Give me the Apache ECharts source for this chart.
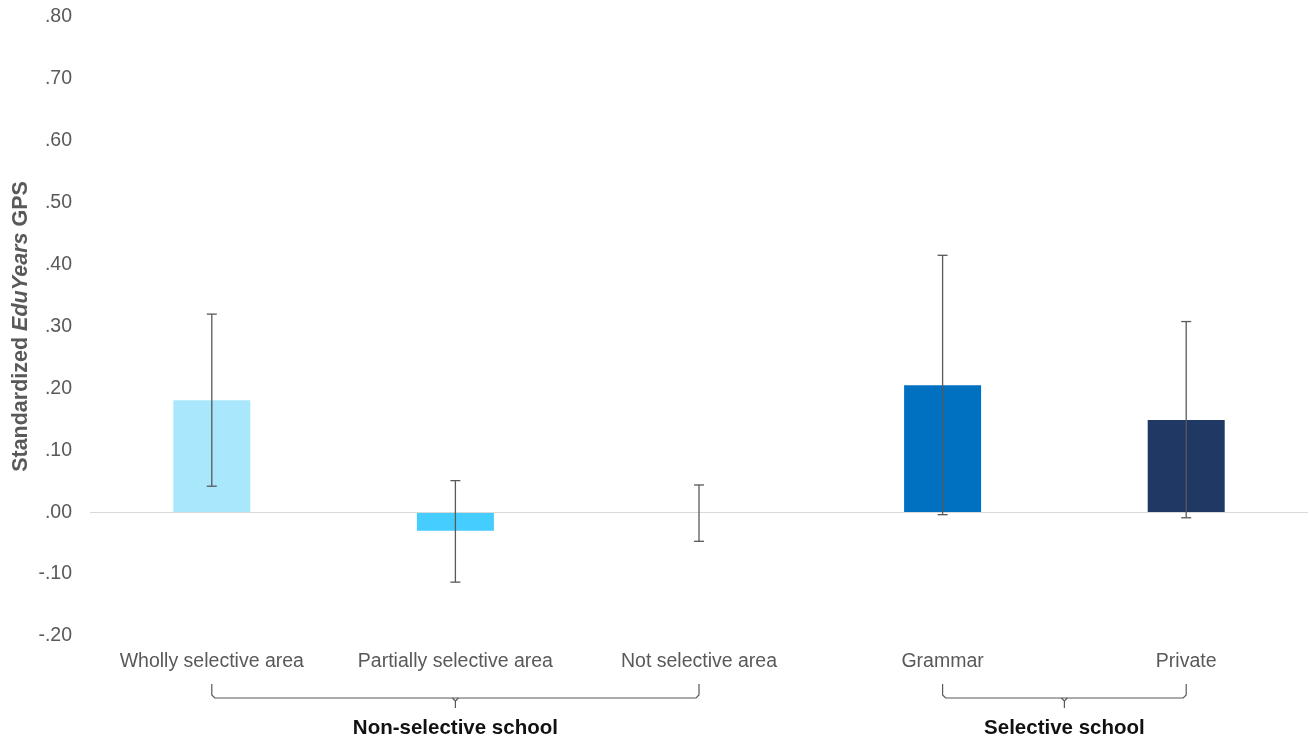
<!DOCTYPE html>
<html>
<head>
<meta charset="utf-8">
<style>
  html, body { margin: 0; padding: 0; background: #ffffff; }
  #chart { width: 1309px; height: 742px; }
</style>
<script src="https://cdn.jsdelivr.net/npm/echarts@6/dist/echarts.min.js"></script>
</head>
<body>
<div id="chart"></div>
<script>
// School-type categories and their standardized EduYears GPS estimates
const categories = ['Wholly selective area', 'Partially selective area', 'Not selective area', 'Grammar', 'Private'];
const means = [0.181, -0.030, 0.000, 0.205, 0.149];
const ciLower = [0.042, -0.113, -0.047, -0.004, -0.009];
const ciUpper = [0.320, 0.051, 0.044, 0.415, 0.308];
const barColors = ['#A9E7FD', '#45CDFF', '#45CDFF', '#0070C0', '#203864'];

// Group brackets under the category axis (first and last category index)
const groups = [
  { name: 'Non-selective school', from: 0, to: 2 },
  { name: 'Selective school', from: 3, to: 4 }
];

const FONT = '"Liberation Sans", Arial, sans-serif';
const chart = echarts.init(document.getElementById('chart'), null, { renderer: 'canvas' });

const tickLabel = v => {
  const s = Math.abs(v).toFixed(2).replace(/^0/, '');
  return (v < -1e-9 ? '-' : '') + s;
};

chart.setOption({
  animation: false,
  backgroundColor: '#ffffff',
  grid: { left: 90, right: 1, top: 17, bottom: 742 - 636, outerBoundsMode: 'none' },
  xAxis: {
    type: 'category',
    data: categories,
    axisLine: { show: false },
    axisTick: { show: false },
    axisLabel: { color: '#595959', fontSize: 19.5, fontFamily: FONT, margin: 16, interval: 0 }
  },
  yAxis: {
    type: 'value',
    min: -0.2,
    max: 0.8,
    interval: 0.1,
    axisLine: { show: false },
    axisTick: { show: false },
    splitLine: { show: false },
    axisLabel: { color: '#595959', fontSize: 19.5, fontFamily: FONT, margin: 18, formatter: tickLabel },
    name: 'Standardized {i|EduYears} GPS',
    nameLocation: 'middle',
    nameGap: 58,
    nameMoveOverlap: false,
    nameTextStyle: {
      color: '#595959', fontSize: 21.5, fontWeight: 'bold', fontFamily: FONT,
      rich: { i: { color: '#595959', fontSize: 21.5, fontWeight: 'bold', fontStyle: 'italic', fontFamily: FONT } }
    }
  },
  series: [
    {
      type: 'bar',
      barWidth: 77,
      data: means.map((v, i) => ({ value: v, itemStyle: { color: barColors[i] } })),
      markLine: {
        silent: true,
        symbol: 'none',
        label: { show: false },
        lineStyle: { color: '#D9D9D9', width: 1, type: 'solid' },
        data: [{ yAxis: 0 }]
      },
      z: 2
    },
    {
      type: 'custom',
      z: 5,
      data: categories.map((c, i) => [i, ciLower[i], ciUpper[i]]),
      renderItem: (params, api) => {
        const x = api.value(0);
        const lo = api.coord([x, api.value(1)]);
        const hi = api.coord([x, api.value(2)]);
        const half = 5;
        const style = { stroke: '#595959', lineWidth: 1.3 };
        return {
          type: 'group',
          children: [
            { type: 'line', shape: { x1: lo[0], y1: lo[1], x2: hi[0], y2: hi[1] }, style },
            { type: 'line', shape: { x1: hi[0] - half, y1: hi[1], x2: hi[0] + half, y2: hi[1] }, style },
            { type: 'line', shape: { x1: lo[0] - half, y1: lo[1], x2: lo[0] + half, y2: lo[1] }, style }
          ]
        };
      }
    }
  ]
});

// Brackets and group titles, positioned from the category axis scale
const gridBottom = chart.convertToPixel({ gridIndex: 0 }, [0, -0.2])[1];
const graphics = [];
const bracketStyle = { fill: null, stroke: '#595959', lineWidth: 1.2 };
groups.forEach(g => {
  const x1 = chart.convertToPixel({ xAxisIndex: 0 }, g.from);
  const x2 = chart.convertToPixel({ xAxisIndex: 0 }, g.to);
  const xm = (x1 + x2) / 2;
  const yTop = gridBottom + 48;
  const yLine = gridBottom + 62;
  const yTip = gridBottom + 72;
  const r = 3;
  graphics.push({
    type: 'polyline', silent: true, style: bracketStyle,
    shape: { points: [[x1, yTop], [x1, yLine - r], [x1 + r, yLine], [x2 - r, yLine], [x2, yLine - r], [x2, yTop]] }
  });
  graphics.push({
    type: 'polyline', silent: true, style: bracketStyle,
    shape: { points: [[xm - r, yLine], [xm, yLine + r], [xm, yTip]] }
  });
  graphics.push({
    type: 'polyline', silent: true, style: bracketStyle,
    shape: { points: [[xm + r, yLine], [xm, yLine + r]] }
  });
  graphics.push({
    type: 'text',
    x: xm,
    y: gridBottom + 92,
    silent: true,
    style: {
      text: g.name,
      fill: '#111111',
      font: 'bold 20.5px ' + FONT,
      textAlign: 'center',
      textVerticalAlign: 'middle'
    }
  });
});
chart.setOption({ graphic: graphics });
</script>
</body>
</html>
